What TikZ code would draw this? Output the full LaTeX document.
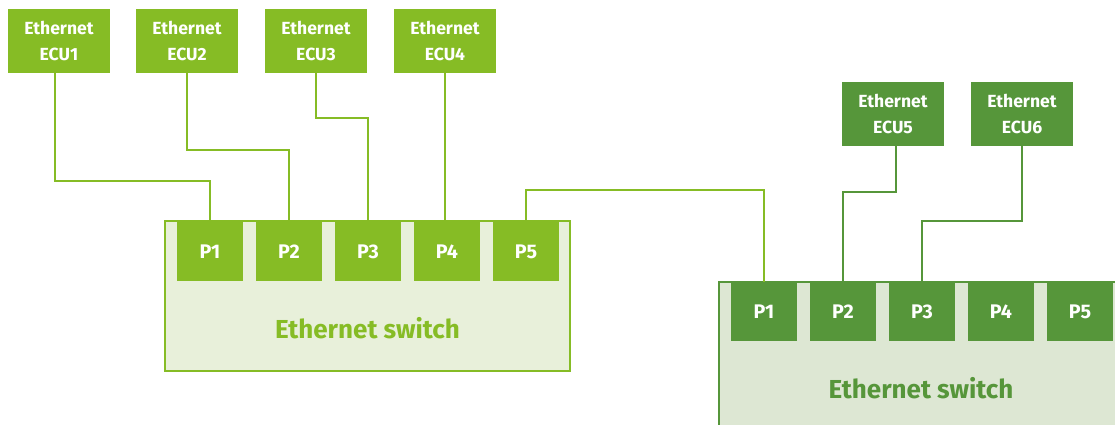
\documentclass[tikz,border=0pt]{standalone}
\usepackage{fontspec}
\setmainfont{Fira Sans}
\definecolor{lightgrn}{HTML}{86BC25}
\definecolor{darkgrn}{HTML}{56963A}
\definecolor{swfillA}{HTML}{E8F0DA}
\definecolor{swfillB}{HTML}{DDE7D3}
\tikzset{
  ecu/.style={rectangle,fill=#1,text=white,align=center,inner sep=0pt,
    minimum width=2.55cm,minimum height=1.6cm,
    font=\fontsize{12.5}{18}\selectfont\bfseries},
  port/.style={rectangle,fill=#1,text=white,inner sep=0pt,
    minimum width=1.65cm,minimum height=1.475cm,
    font=\fontsize{14}{16}\selectfont\bfseries},
  switchbox/.style={rectangle,draw=#1,line width=1.4pt,inner sep=0pt},
  swlabel/.style={text=#1,font=\fontsize{18.5}{20}\selectfont\bfseries},
  link/.style={draw=#1,line width=1.4pt}
}
\begin{document}
\begin{tikzpicture}[x=0.025cm,y=-0.025cm]
  \useasboundingbox (0,0) rectangle (1115,424);
  \clip (0,0) rectangle (1115,424);
  % first switch
  \node[switchbox=lightgrn,fill=swfillA,minimum width=10.125cm,minimum height=3.75cm] (sw1) at (367.5,296) {};
  \node[swlabel=lightgrn] (sw1txt) at (367.5,328) {Ethernet switch};
  \foreach \i in {1,...,5}{
    \node[port=lightgrn] (a\i) at ({210+79*(\i-1)},251.5) {P\i};
  }
  % second switch, runs off the page
  \node[switchbox=darkgrn,fill=swfillB,minimum width=10.5cm,minimum height=4cm] (sw2) at (929,362) {};
  \node[swlabel=darkgrn] (sw2txt) at (921,388) {Ethernet switch};
  \foreach \i in {1,...,5}{
    \node[port=darkgrn] (b\i) at ({764+79*(\i-1)},311.5) {P\i};
  }
  % ECUs
  \node[ecu=lightgrn] (e1) at (59,41) {Ethernet\\ECU1};
  \node[ecu=lightgrn] (e2) at (187,41) {Ethernet\\ECU2};
  \node[ecu=lightgrn] (e3) at (316,41) {Ethernet\\ECU3};
  \node[ecu=lightgrn] (e4) at (445,41) {Ethernet\\ECU4};
  \node[ecu=darkgrn] (e5) at (893,114) {Ethernet\\ECU5};
  \node[ecu=darkgrn] (e6) at (1022,114) {Ethernet\\ECU6};
  % cables
  \draw[link=lightgrn] ([xshift=-0.1cm]e1.south) -- ++(0,108) -| (a1.north);
  \draw[link=lightgrn] (e2.south) -- ++(0,77) -| (a2.north);
  \draw[link=lightgrn] (e3.south) -- ++(0,45) -| (a3.north);
  \draw[link=lightgrn] (e4.south) -- (e4.south |- a4.north);
  \draw[link=lightgrn] (a5.north) -- ++(0,-32) -| (b1.north);
  \draw[link=darkgrn] ([xshift=0.075cm]e5.south) -- ++(0,46) -| (b2.north);
  \draw[link=darkgrn] (e6.south) -- ++(0,75) -| (b3.north);
\end{tikzpicture}
\end{document}
